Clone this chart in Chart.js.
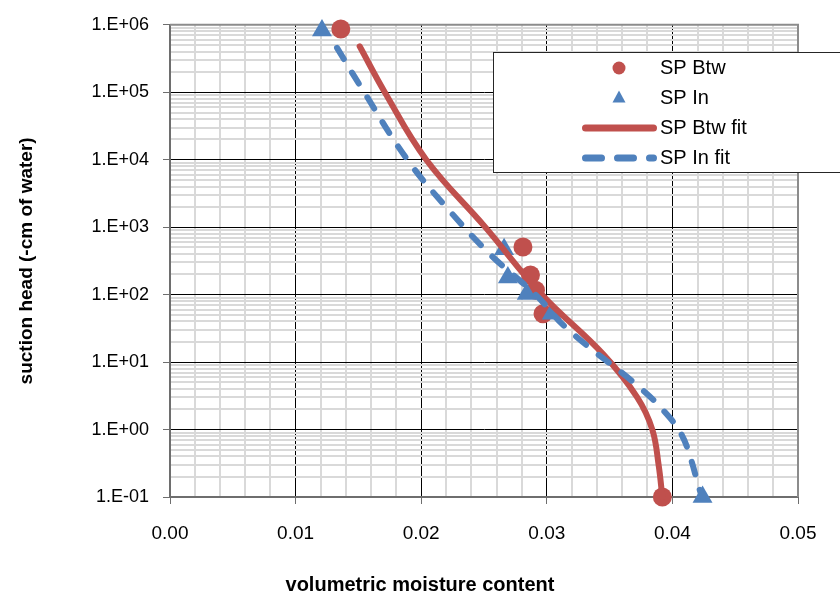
<!DOCTYPE html>
<html>
<head>
<meta charset="utf-8">
<script src="https://cdn.jsdelivr.net/npm/chart.js@4"></script>
<style>
  body { margin: 0; background: #fff; }
</style>
</head>
<body>
<canvas id="myChart" width="840" height="596"></canvas>
<script>
// measured points
const btwX = [0.0136, 0.0281, 0.0287, 0.0291, 0.0297, 0.0392]
const btwY = [865000, 508, 195, 116, 52, 0.1]
const inX = [0.0121, 0.0266, 0.0269, 0.0284, 0.0304, 0.0424]
const inY = [820000, 469, 180, 102, 52, 0.1]

// fitted curves
const btwFitX = [0.0151, 0.0171, 0.0204, 0.0251, 0.0296, 0.0345, 0.0372, 0.0384, 0.0389, 0.0392]
const btwFitY = [480000, 100000, 10000, 1000, 100, 13, 3, 1, 0.3, 0.1]
const inFitX = [0.0133, 0.0152, 0.0189, 0.0224, 0.0256, 0.0291, 0.0316, 0.0374, 0.0393, 0.0407, 0.0415, 0.0421, 0.0424]
const inFitY = [455000, 120000, 10000, 1630, 377, 100, 31.5, 4.2, 1.9, 0.86, 0.35, 0.14, 0.1]

// axis ticks
const xMajor = [0, 0.01, 0.02, 0.03, 0.04, 0.05]
const xLabels = ["0.00", "0.01", "0.02", "0.03", "0.04", "0.05"]
const yMajor = [0.1, 1, 10, 100, 1000, 10000, 100000, 1000000]
const yLabels = ["1.E-01", "1.E+00", "1.E+01", "1.E+02", "1.E+03", "1.E+04", "1.E+05", "1.E+06"]

const red = "#C0504D"
const blue = "#4F81BD"
const fam = '"Liberation Sans", Arial, sans-serif'

// minor grid positions
let xGrid = []
for (let i = 0; i <= 25; i++) xGrid.push(+(i * 0.002).toFixed(4))
let yGrid = []
yMajor.forEach((m, i) => {
  yGrid.push(m)
  if (i < yMajor.length - 1) {
    for (let k = 2; k <= 9; k++) yGrid.push(+(m * k).toPrecision(3))
  }
})

const findIdx = (arr, v) => arr.findIndex((m) => Math.abs(m - v) < m * 1e-6 + 1e-9)

const pts = (xs, ys) => xs.map((x, i) => ({ x: x, y: ys[i] }))

const frameAndLegend = {
  id: "frameAndLegend",
  beforeDatasetsDraw(chart) {
    const { ctx, chartArea: a } = chart
    ctx.save()
    ctx.strokeStyle = "#8c8c8c"
    ctx.lineWidth = 2
    ctx.beginPath()
    ctx.moveTo(a.left, a.top)
    ctx.lineTo(a.right, a.top)
    ctx.lineTo(a.right, a.bottom)
    ctx.stroke()
    ctx.restore()
  },
  afterDraw(chart) {
    const ctx = chart.ctx
    ctx.save()
    // x axis title (centred on the whole chart)
    ctx.fillStyle = "#000"
    ctx.font = "bold 20px " + fam
    ctx.textAlign = "center"
    ctx.textBaseline = "middle"
    ctx.fillText("volumetric moisture content", 420, 585)

    // legend box
    ctx.fillStyle = "#fff"
    ctx.fillRect(493, 52, 350, 121)
    ctx.strokeStyle = "#262626"
    ctx.lineWidth = 1
    ctx.strokeRect(493.5, 52.5, 350, 120)

    const rows = [68, 98, 128, 158]
    const ds = chart.data.datasets
    // circle
    ctx.fillStyle = red
    ctx.beginPath()
    ctx.arc(619, rows[0], 6.5, 0, Math.PI * 2)
    ctx.fill()
    // triangle
    ctx.fillStyle = blue
    ctx.beginPath()
    ctx.moveTo(619, rows[1] - 7.5)
    ctx.lineTo(625.5, rows[1] + 4.5)
    ctx.lineTo(612.5, rows[1] + 4.5)
    ctx.closePath()
    ctx.fill()
    // solid line
    ctx.lineCap = "round"
    ctx.lineWidth = 7
    ctx.strokeStyle = red
    ctx.beginPath()
    ctx.moveTo(585.5, rows[2])
    ctx.lineTo(653.5, rows[2])
    ctx.stroke()
    // dashed line
    ctx.strokeStyle = blue
    ctx.setLineDash([16, 16])
    ctx.beginPath()
    ctx.moveTo(585.5, rows[3])
    ctx.lineTo(653.5, rows[3])
    ctx.stroke()
    ctx.setLineDash([])

    ctx.fillStyle = "#000"
    ctx.font = "20px " + fam
    ctx.textAlign = "left"
    ctx.textBaseline = "middle"
    ds.forEach((d, i) => {
      ctx.fillText(d.label, 660, rows[i])
    })
    ctx.restore()
  },
}

const ctx = document.getElementById("myChart")

new Chart(ctx, {
  type: "scatter",
  data: {
    datasets: [
      {
        label: "SP Btw",
        data: pts(btwX, btwY),
        pointStyle: "circle",
        pointRadius: 9.5,
        backgroundColor: red,
        borderColor: red,
        borderWidth: 0,
        order: 4,
        clip: false,
      },
      {
        label: "SP In",
        data: pts(inX, inY),
        pointStyle: "triangle",
        pointRadius: 11.5,
        backgroundColor: blue,
        borderColor: blue,
        borderWidth: 0,
        order: 3,
        clip: false,
      },
      {
        label: "SP Btw fit",
        data: pts(btwFitX, btwFitY),
        showLine: true,
        pointRadius: 0,
        borderColor: red,
        borderWidth: 6,
        borderCapStyle: "round",
        borderJoinStyle: "round",
        tension: 0.4,
        order: 2,
        clip: false,
      },
      {
        label: "SP In fit",
        data: pts(inFitX, inFitY),
        showLine: true,
        pointRadius: 0,
        borderColor: blue,
        borderWidth: 6,
        borderDash: [13, 16],
        borderCapStyle: "round",
        borderJoinStyle: "round",
        tension: 0.4,
        order: 1,
        clip: false,
      },
    ],
  },
  options: {
    responsive: false,
    animation: false,
    layout: { padding: { left: 0, top: 20, right: 42, bottom: 0 } },
    plugins: {
      legend: { display: false },
      tooltip: { enabled: false },
    },
    scales: {
      x: {
        type: "linear",
        min: 0,
        max: 0.05,
        afterBuildTicks: (s) => {
          s.ticks = xGrid.map((v) => ({ value: v }))
        },
        afterFit: (s) => {
          s.height = 99
        },
        ticks: {
          autoSkip: false,
          maxRotation: 0,
          padding: 18,
          color: "#000",
          font: { family: fam, size: 19 },
          callback: (v) => {
            let i = findIdx(xMajor, v)
            return i >= 0 ? xLabels[i] : ""
          },
        },
        grid: {
          color: (c) => (findIdx(xMajor, c.tick.value) >= 0 ? "#000" : "#d9d9d9"),
          lineWidth: (c) => (findIdx(xMajor, c.tick.value) >= 0 ? 1 : 2),
          tickLength: 7,
          tickWidth: 1,
          tickColor: (c) => (findIdx(xMajor, c.tick.value) >= 0 ? "#6e6e6e" : "rgba(0,0,0,0)"),
        },
        border: { color: "#6e6e6e", width: 2 },
      },
      y: {
        type: "logarithmic",
        min: 0.1,
        max: 1000000,
        afterBuildTicks: (s) => {
          s.ticks = yGrid.map((v) => ({ value: v }))
        },
        afterFit: (s) => {
          s.width = 170
        },
        ticks: {
          autoSkip: false,
          padding: 14,
          color: "#000",
          font: { family: fam, size: 18 },
          callback: (v) => {
            let i = findIdx(yMajor, v)
            return i >= 0 ? yLabels[i] : ""
          },
        },
        grid: {
          color: (c) => (findIdx(yMajor, c.tick.value) >= 0 ? "#000" : "#d9d9d9"),
          lineWidth: (c) => (findIdx(yMajor, c.tick.value) >= 0 ? 1 : 2),
          tickLength: 7,
          tickWidth: 1,
          tickColor: (c) => (findIdx(yMajor, c.tick.value) >= 0 ? "#6e6e6e" : "rgba(0,0,0,0)"),
        },
        border: { color: "#6e6e6e", width: 2 },
        title: {
          display: true,
          text: "suction head (-cm of water)",
          color: "#000",
          font: { family: fam, size: 19, weight: "bold", lineHeight: 1 },
          padding: { top: 17, bottom: 0 },
        },
      },
    },
  },
  plugins: [frameAndLegend],
})
</script>
</body>
</html>
